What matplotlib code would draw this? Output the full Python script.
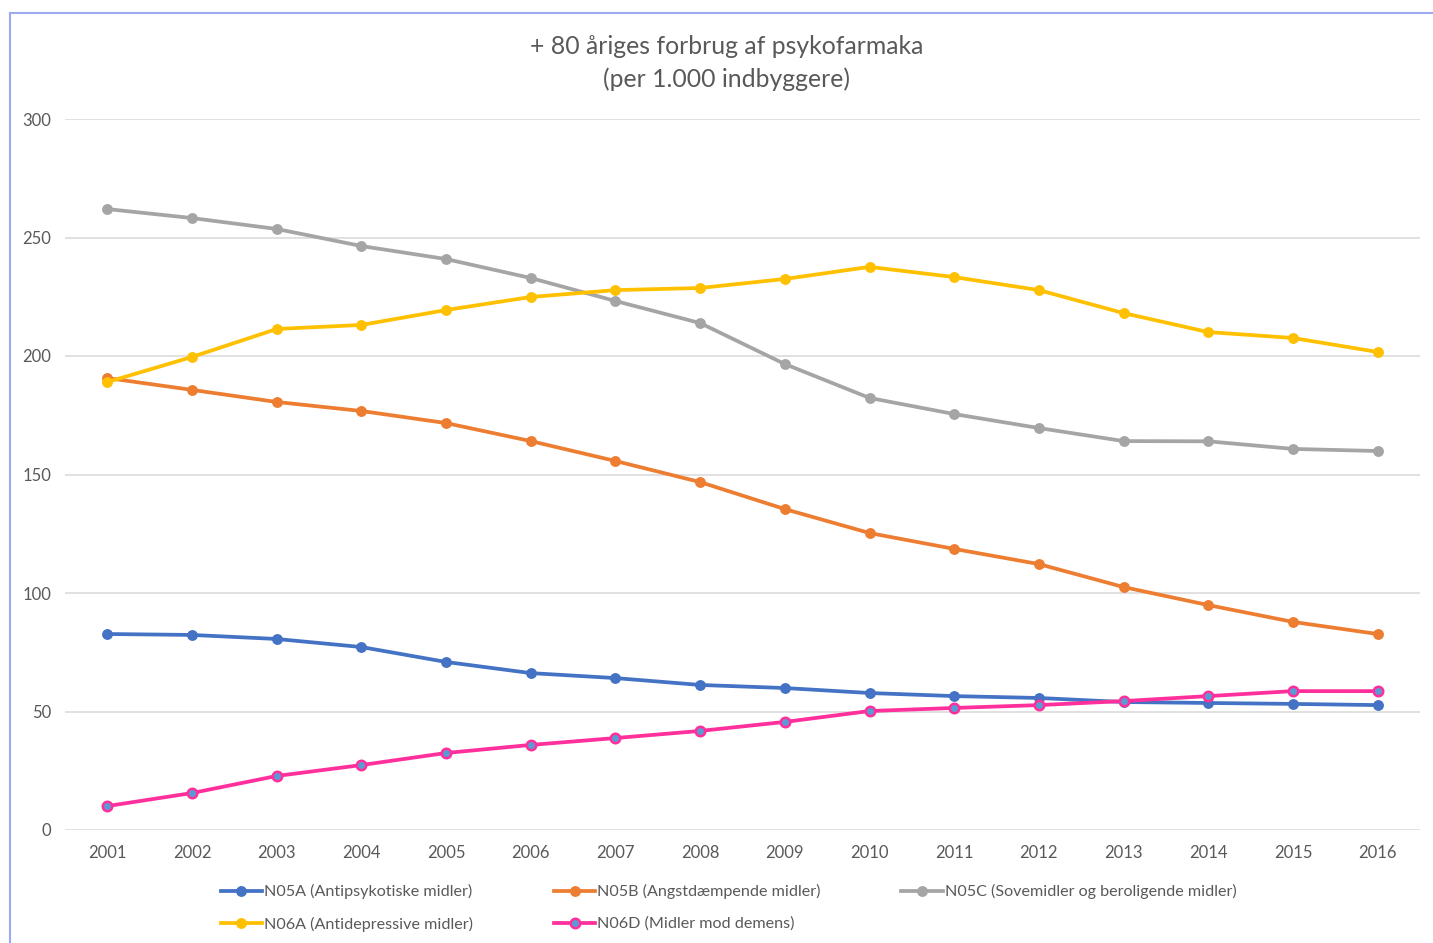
import matplotlib
matplotlib.use('Agg')
import matplotlib.pyplot as plt
from matplotlib.lines import Line2D

plt.rcParams['font.family'] = ['Lato', 'DejaVu Sans']

years = [str(y) for y in range(2001, 2017)]

n05a = [82.7, 82.3, 80.6, 77.2, 70.9, 66.2, 64.1, 61.2, 59.9, 57.8, 56.5, 55.7, 54.0, 53.6, 53.2, 52.7]
n05b = [190.7, 185.7, 180.6, 176.8, 171.7, 164.1, 155.7, 146.8, 135.4, 125.3, 118.6, 112.2, 102.5, 94.9, 87.8, 82.7]
n05c = [262.0, 258.2, 253.6, 246.4, 240.9, 232.9, 223.2, 213.9, 196.6, 182.3, 175.5, 169.6, 164.1, 164.0, 160.8, 159.9]
n06a = [189.0, 199.6, 211.4, 213.1, 219.4, 224.9, 227.8, 228.7, 232.5, 237.6, 233.3, 227.8, 218.1, 210.1, 207.6, 201.7]
n06d = [10.1, 15.6, 22.8, 27.4, 32.5, 35.9, 38.8, 41.8, 45.6, 50.2, 51.5, 52.7, 54.4, 56.5, 58.6, 58.6]

labels = ['N05A (Antipsykotiske midler)', 'N05B (Angstdæmpende midler)',
          'N05C (Sovemidler og beroligende midler)', 'N06A (Antidepressive midler)',
          'N06D (Midler mod demens)']

fig = plt.figure(figsize=(14.33, 9.43), dpi=100)
ax = fig.add_axes([65 / 1433, 1 - 830 / 943, (1420 - 65) / 1433, (830 - 119) / 943])

x = list(range(len(years)))
lw, ms = 2.7, 6.8
h_a, = ax.plot(x, n05a, color='#4472c4', lw=lw, marker='o', ms=ms, zorder=3)
h_b, = ax.plot(x, n05b, color='#ed7d31', lw=lw, marker='o', ms=ms, zorder=3)
h_c, = ax.plot(x, n05c, color='#a5a5a5', lw=lw, marker='o', ms=ms, zorder=3)
h_6a, = ax.plot(x, n06a, color='#ffc000', lw=lw, marker='o', ms=ms, zorder=3)
h_6d, = ax.plot(x, n06d, color='#ff2f9c', lw=lw, marker='o', ms=ms,
                markerfacecolor='#5b9bd5', markeredgecolor='#ff2f9c', markeredgewidth=1.8, zorder=4)

ax.set_xlim(-0.5, len(years) - 0.5)
ax.set_ylim(0, 300)
ax.set_yticks(range(0, 301, 50))
ax.set_xticks(x)
ax.set_xticklabels(years)
ax.yaxis.grid(True, color='#d9d9d9', lw=1.1)
ax.set_axisbelow(True)
for s in ax.spines.values():
    s.set_visible(False)
ax.tick_params(length=0, labelsize=12, colors='#595959')
ax.tick_params(axis='y', pad=10)
ax.tick_params(axis='x', pad=11)

fig.text(0.507, 1 - 63 / 943, '+ 80 åriges forbrug af psykofarmaka\n(per 1.000 indbyggere)',
         ha='center', va='center', fontsize=17.8, color='#595959', linespacing=1.45)

handles = [h_a, h_6a, h_b, h_6d, h_c]
leg_labels = [labels[0], labels[3], labels[1], labels[4], labels[2]]
leg = fig.legend(handles, leg_labels, ncol=3, loc='center left',
                 bbox_to_anchor=(206 / 1433, 1 - 908 / 943), frameon=False,
                 fontsize=11.6, labelcolor='#595959', handlelength=2.6, handletextpad=0.1,
                 columnspacing=5.0, labelspacing=1.1)

# screenshot frame
fig.add_artist(Line2D([10 / 1433, 10 / 1433], [0, 1 - 13 / 943], color='#9ea8f0', lw=1.5))
fig.add_artist(Line2D([10 / 1433, 1], [1 - 13 / 943, 1 - 13 / 943], color='#9ea8f0', lw=1.5))

fig.savefig('out.png', dpi=100)
